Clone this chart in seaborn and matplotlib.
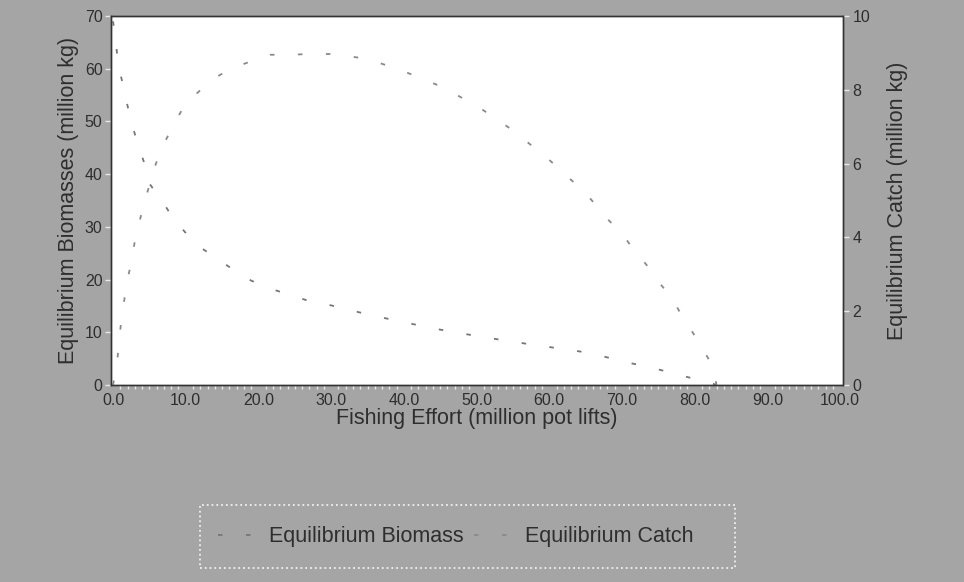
import numpy as np
import pandas as pd
import matplotlib
matplotlib.use("Agg")
import matplotlib.pyplot as plt
import seaborn as sns
from matplotlib.patches import Rectangle
from matplotlib.ticker import MultipleLocator, FormatStrFormatter

# Equilibrium biomass (million kg) vs fishing effort (million pot lifts)
biomass_effort = [0, 0.4, 0.7, 1.3, 1.9, 2.6, 3.4, 4.3, 4.9, 6.7, 8.1, 9.9, 11.8, 14.3,
                  16.5, 19, 21.6, 24.1, 26.8, 30, 35, 40, 45, 50, 55, 60, 65, 68.4,
                  71, 73.7, 76.3, 79, 81.8, 83]
biomass = [69, 64.8, 61, 57.3, 53.5, 49.5, 45.7, 42.1, 38.4, 35, 32, 29, 26.3, 24,
           21.9, 19.8, 18.3, 17.2, 16, 15.1, 13.4, 11.9, 10.5, 9.3, 8.2, 7.2, 6.2, 5.1,
           4.2, 3.4, 2.5, 1.5, 0.6, 0]

# Equilibrium catch (million kg)
catch_effort = [0, 0.55, 0.8, 1.1, 1.5, 1.9, 2.5, 3.0, 3.6, 4.3, 5.9, 6.9, 8.2, 9.6,
                11.5, 13.8, 16.2, 18.8, 21.6, 24.3, 27, 30, 35, 40, 45, 50, 55, 60,
                65, 68, 70, 71.5, 73.6, 75, 76.7, 78.3, 79.8, 81.2, 82.5, 83]
catch = [0, 0.59, 1.14, 1.68, 2.24, 2.8, 3.3, 3.9, 4.4, 4.95, 6.0, 6.5, 7.0, 7.5,
         7.9, 8.3, 8.57, 8.76, 8.95, 8.95, 8.97, 8.97, 8.84, 8.5, 8.1, 7.57, 6.9, 6.1,
         5.2, 4.5, 4.1, 3.7, 3.2, 2.8, 2.4, 1.86, 1.4, 0.95, 0.5, 0]

df_b = pd.DataFrame({"Effort": biomass_effort, "Value": biomass})
df_c = pd.DataFrame({"Effort": catch_effort, "Value": catch})

sns.set_style("white")
plt.rcParams['font.family'] = ['Liberation Sans', 'DejaVu Sans']

bg = "#a5a5a5"
txt = "#2e2e2e"
tick_col = "#e8e8e8"
dash = (0, (2.5, 13))

fig = plt.figure(figsize=(9.64, 5.82), dpi=100, facecolor=bg)
ax = fig.add_axes([0.115, 0.3385, 0.7595, 0.634])
ax.set_facecolor("white")
ax2 = ax.twinx()

sns.lineplot(data=df_b, x="Effort", y="Value", ax=ax, color="#777777",
             linewidth=1.3, linestyle=dash, legend=False)
sns.lineplot(data=df_c, x="Effort", y="Value", ax=ax2, color="#8a8a8a",
             linewidth=1.3, linestyle=dash, legend=False)

ax.set_xlim(-0.3, 100.4)
ax.set_ylim(0, 70)
ax2.set_ylim(0, 10)

ax.xaxis.set_major_locator(MultipleLocator(10))
ax.xaxis.set_minor_locator(MultipleLocator(1))
ax.xaxis.set_major_formatter(FormatStrFormatter('%.1f'))
ax.yaxis.set_major_locator(MultipleLocator(10))
ax2.yaxis.set_major_locator(MultipleLocator(2))

ax.set_xlabel("Fishing Effort (million pot lifts)", fontsize=15.5, color=txt, labelpad=0)
ax.set_ylabel("Equilibrium Biomasses (million kg)", fontsize=15.5, color=txt, labelpad=4)
ax2.set_ylabel("Equilibrium Catch (million kg)", fontsize=15.5, color=txt, labelpad=12)

for a in (ax, ax2):
    for s in a.spines.values():
        s.set_color("#333333")
        s.set_linewidth(1.0)
ax.tick_params(axis='both', which='major', direction='out', length=4, width=1,
               color=tick_col, labelcolor=txt, labelsize=11.5, pad=2)
ax.tick_params(axis='x', which='minor', direction='out', length=3, width=1,
               color=tick_col, bottom=True)
ax2.tick_params(axis='y', which='major', direction='out', length=4, width=1,
                color=tick_col, labelcolor=txt, labelsize=11.5, pad=3)

# legend box drawn separately (thin side padding, tall box)
fig.patches.append(Rectangle((0.2075, 0.024), 0.555, 0.108, transform=fig.transFigure,
                             facecolor="none", edgecolor="#f0f0f0", linestyle=':',
                             linewidth=1.3, zorder=5))
handles = ax.get_lines() + ax2.get_lines()
leg = fig.legend(handles=handles, labels=["Equilibrium Biomass", "Equilibrium Catch"],
                 loc='center', bbox_to_anchor=(0.473, 0.078), ncol=2,
                 fontsize=15.5, frameon=False, handlelength=2.0, handletextpad=0.35,
                 columnspacing=0.5, labelcolor=txt)

fig.savefig("out.png", dpi=100, facecolor=bg)
